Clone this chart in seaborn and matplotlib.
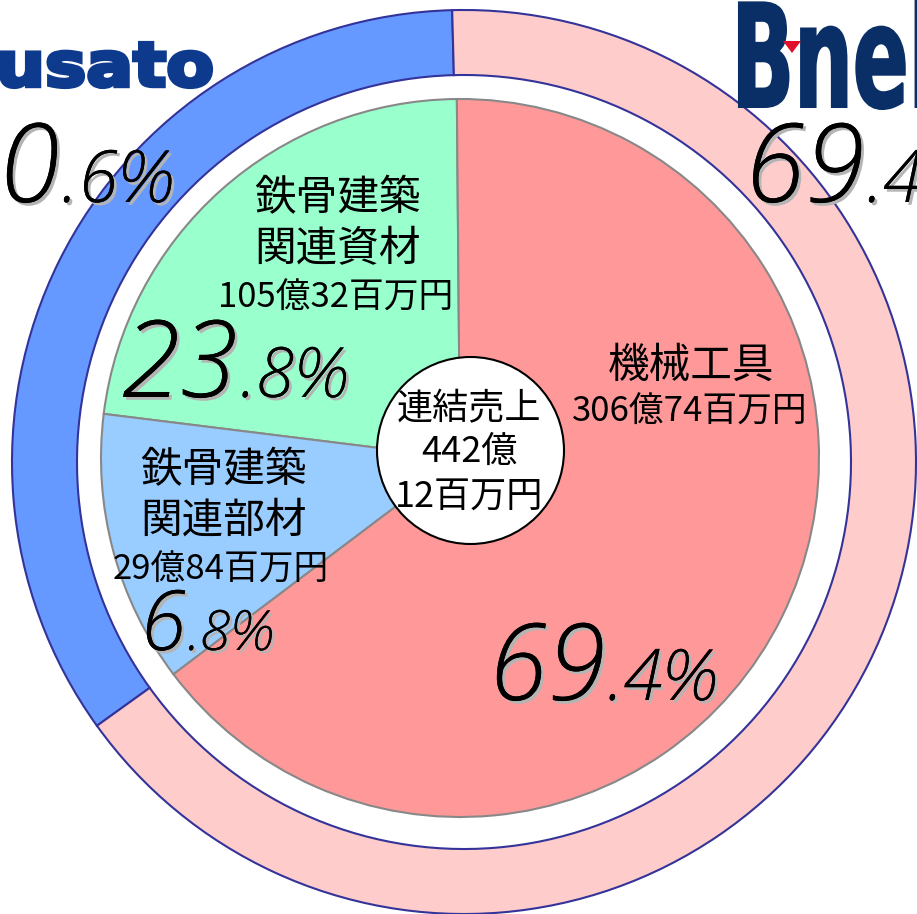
"""
Consolidated sales breakdown: inner pie by segment, outer ring by company.
Output: out.png
"""

import matplotlib
matplotlib.use("Agg")
import matplotlib.pyplot as plt
import matplotlib.patheffects as pe
from matplotlib.patches import Circle, PathPatch, Polygon
from matplotlib.textpath import TextPath
from matplotlib.font_manager import FontProperties
from matplotlib.transforms import Affine2D
import seaborn as sns

W, H = 917, 914

# inner pie, counter-clockwise from the top (shares as drawn in the picture)
seg_titles = ["鉄骨建築\n関連資材", "鉄骨建築\n関連部材", "機械工具"]
seg_amounts = ["105億32百万円", "29億84百万円", "306億74百万円"]
seg_shares = [22.9, 12.25, 64.85]
seg_pct = ["23.8%", "6.8%", "69.4%"]
seg_colors = ["#99FFCC", "#99CCFF", "#FF9999"]

# outer ring by company, counter-clockwise from the top
ring_shares = [34.5, 65.5]
ring_pct = ["30.6%", "69.4%"]
ring_colors = ["#6699FF", "#FFCCCC"]

total_lines = ["連結売上", "442億", "12百万円"]

sns.set_theme(style="white")
plt.rcParams["font.family"] = ["Noto Sans CJK JP", "DejaVu Sans"]
plt.rcParams["text.color"] = "black"
pal_inner = sns.color_palette(seg_colors)
pal_ring = sns.color_palette(ring_colors)

fig = plt.figure(figsize=(W / 100, H / 100), dpi=100)
ax = fig.add_axes([0, 0, 1, 1])


def Y(y):
    # picture rows are measured from the top
    return H - y


ax.pie(ring_shares, colors=pal_ring, startangle=91.5, counterclock=True,
       radius=452, center=(464, Y(462)),
       wedgeprops=dict(width=65, edgecolor="#333399", linewidth=1.5))
ax.pie(seg_shares, colors=pal_inner, startangle=90.5, counterclock=True,
       radius=359, center=(460, Y(458)),
       wedgeprops=dict(edgecolor="#888888", linewidth=1.5))
ax.add_patch(Circle((470.5, Y(450.5)), 93.5, facecolor="white",
                    edgecolor="black", linewidth=1.5, zorder=5))

ax.set_xlim(0, W)
ax.set_ylim(0, H)
ax.set_aspect("equal")
ax.axis("off")


def logo(text, box, color, lw=0.0):
    tp = TextPath((0, 0), text, size=100,
                  prop=FontProperties(family="DejaVu Sans", weight="bold"))
    ext = tp.get_extents()
    x0, y0, x1, y1 = box
    tr = (Affine2D().translate(-ext.x0, -ext.y0)
          .scale((x1 - x0) / ext.width, (y1 - y0) / ext.height)
          .translate(x0, Y(y1)))
    ax.add_patch(PathPatch(tr.transform_path(tp), facecolor=color,
                           edgecolor=color, linewidth=lw, zorder=6))


logo("usato", (1, 43, 211, 87), "#0D3A8C", lw=3.0)
logo("Bnel", (739, -2, 930, 109), "#0A2E66", lw=1.5)
ax.add_patch(Polygon([(783, Y(41)), (801, Y(41)), (792, Y(53))],
                     closed=True, facecolor="#E0102A", edgecolor="none", zorder=7))

shadow = [pe.withSimplePatchShadow(offset=(2, -2), shadow_rgbFace="#B4B4B4", alpha=1.0),
          pe.Normal()]
pct_font = dict(family=["Open Sans", "Lato", "DejaVu Sans"], style="italic", weight=300,
                color="black", va="baseline", zorder=8, path_effects=shadow)
renderer = fig.canvas.get_renderer()


def pct(text, x, base, big, small, ha="left"):
    # big integer part, then the smaller ".d%" right after it on the same baseline
    head, tail = text.split(".")
    t = ax.text(x, Y(base), head, fontsize=big, ha=ha, **pct_font)
    bb = t.get_window_extent(renderer=renderer)
    x_small = ax.transData.inverted().transform((bb.x1, bb.y0))[0] + 1
    ax.text(x_small, Y(base), "." + tail, fontsize=small, ha="left", **pct_font)


# inner segment labels
title_pos = [(337, 199, 250), (223, 471, 521), (691, 366, None)]
amount_pos = [(336, 298), (221, 570), (690, 412)]
for title, (tx, y1, y2) in zip(seg_titles, title_pos):
    lines = title.split("\n")
    ys = [y1, y2] if y2 is not None else [y1]
    for line, yy in zip(lines, ys):
        ax.text(tx, Y(yy), line, fontsize=30, ha="center", va="center", zorder=8)
for amount, (ax_, ay) in zip(seg_amounts, amount_pos):
    ax.text(ax_, Y(ay), amount, fontsize=25, ha="center", va="center", zorder=8)

pct(seg_pct[0], 121, 397, 77, 50)
pct(seg_pct[1], 140, 650, 60, 40)
pct(seg_pct[2], 488, 700, 77, 51)

# ring labels (cut by the picture edge)
pct(ring_pct[0], 60, 202, 79, 52, ha="right")
pct(ring_pct[1], 744, 202, 79, 52)

# consolidated total in the centre
for line, yy in zip(total_lines, [409, 452, 497]):
    ax.text(469, Y(yy), line, fontsize=26, ha="center", va="center", zorder=8)

fig.savefig("out.png", dpi=100)
plt.close(fig)
